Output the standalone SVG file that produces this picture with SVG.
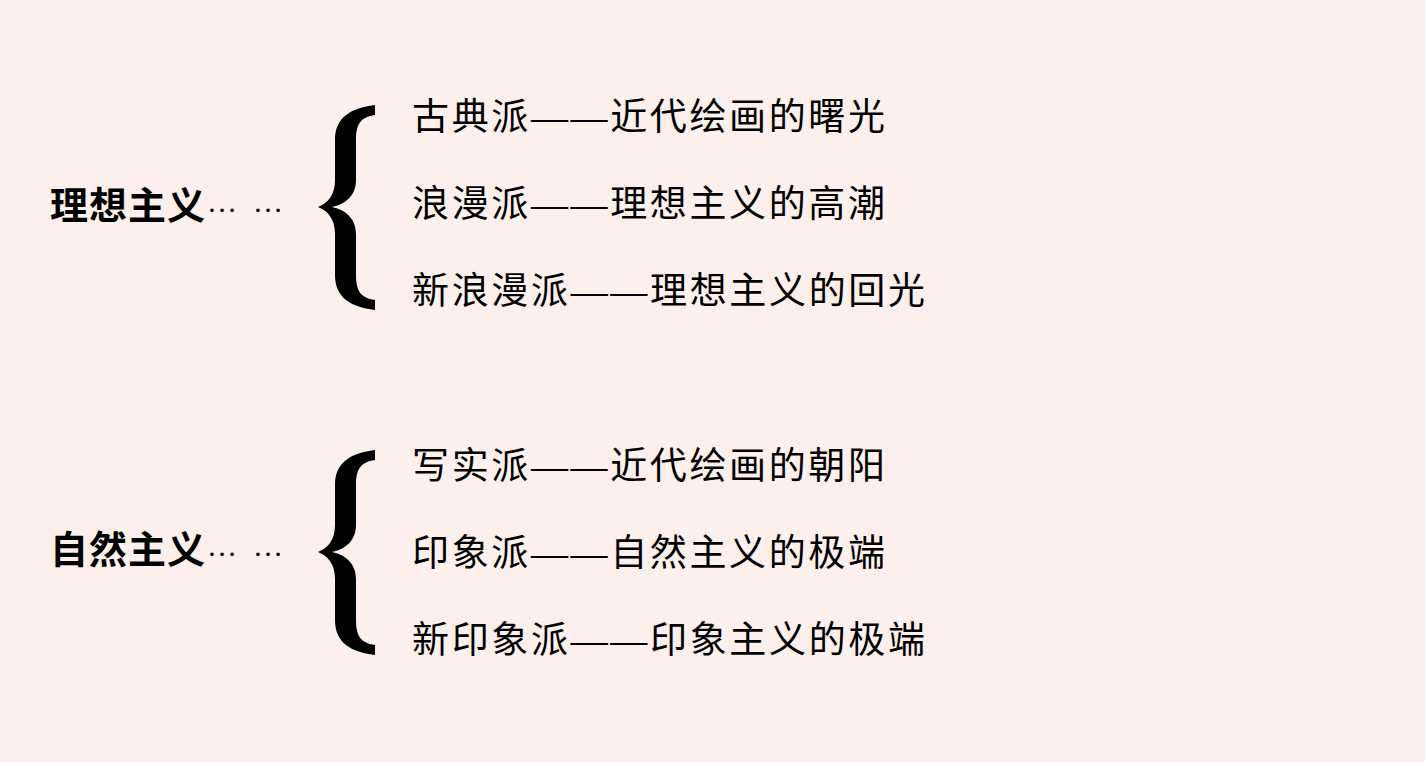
<svg xmlns="http://www.w3.org/2000/svg" width="1425" height="762" viewBox="0 0 1425 762">
<style>
.t{font-family:"Liberation Serif","Noto Sans CJK SC",serif;font-size:37px;fill:#000}
.b{font-family:"Liberation Serif","Noto Sans CJK SC",serif;font-size:38px;font-weight:bold;fill:#000}
.d{font-family:"Liberation Serif",serif;font-size:30px;fill:#000}
</style>
<defs>
<path id="brace" d="M375,105 C350,108 335,118 335,140 L335,180 C335,195 328,203 318,207 C328,211 335,219 335,234 L335,275 C335,297 350,307 375,310 L375,300 C360,298 356,290 356,275 L356,234 C356,220 347,210 332,207 C347,204 356,194 356,180 L356,140 C356,125 360,117 375,115 Z"/>
</defs>
<rect width="1425" height="762" fill="#fcefec"/>
<g id="group1">
<text class="b" x="50" y="219" textLength="155">理想主义</text>
<text class="d" x="207" y="212" textLength="76">……</text>
<use href="#brace"/>
<text class="t" x="412" y="130" textLength="473">古典派——近代绘画的曙光</text>
<text class="t" x="412" y="217" textLength="473">浪漫派——理想主义的高潮</text>
<text class="t" x="412" y="304" textLength="513">新浪漫派——理想主义的回光</text>
</g>
<g id="group2">
<text class="b" x="50" y="563" textLength="155">自然主义</text>
<text class="d" x="207" y="556" textLength="76">……</text>
<use href="#brace" transform="translate(0,345)"/>
<text class="t" x="412" y="479" textLength="473">写实派——近代绘画的朝阳</text>
<text class="t" x="412" y="566" textLength="473">印象派——自然主义的极端</text>
<text class="t" x="412" y="653" textLength="513">新印象派——印象主义的极端</text>
</g>
<g id="connectors"/>
</svg>
